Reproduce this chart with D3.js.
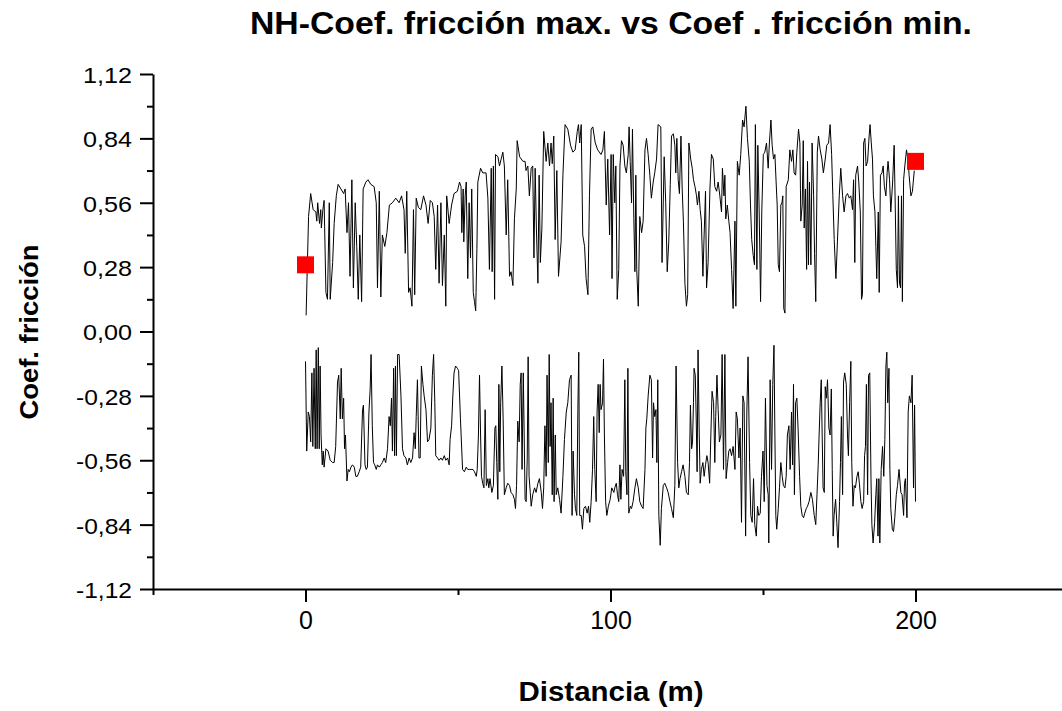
<!DOCTYPE html>
<html><head><meta charset="utf-8">
<script src="https://cdn.jsdelivr.net/npm/d3@7"></script>
<style>body{margin:0;background:#fff}svg{display:block}</style>
</head><body>
<svg id="c" width="1062" height="711"></svg>
<script>
// [distance (m), coefficient]
const maxSeries = [
[0.2,0.07],[1.0,0.50],[1.7,0.60],[2.5,0.53],[3.4,0.52],[3.7,0.48],[4.0,0.56],[4.6,0.47],[5.0,0.53],[5.2,0.45],
[5.7,0.53],[6.1,0.57],[6.7,0.17],[7.2,0.14],[7.8,0.56],[8.1,0.14],[8.9,0.30],[9.4,0.47],[10.1,0.59],[10.7,0.64],
[11.6,0.62],[12.5,0.60],[13.0,0.62],[13.6,0.43],[14.1,0.56],[14.6,0.24],[15.2,0.66],[15.7,0.19],[16.3,0.56],[16.8,0.37],
[17.3,0.14],[17.8,0.42],[18.4,0.13],[18.9,0.62],[19.8,0.65],[20.5,0.66],[21.4,0.64],[22.5,0.63],[23.2,0.56],[23.6,0.19],
[24.2,0.61],[24.7,0.15],[25.2,0.42],[26.0,0.37],[26.7,0.43],[27.5,0.55],[28.5,0.56],[29.6,0.58],[30.7,0.56],[31.5,0.59],
[32.3,0.53],[32.7,0.34],[33.2,0.61],[33.8,0.17],[34.3,0.19],[34.9,0.11],[35.4,0.53],[35.8,0.16],[36.3,0.58],[37.0,0.54],
[37.8,0.53],[38.7,0.59],[39.5,0.55],[40.2,0.47],[40.9,0.57],[41.6,0.56],[42.2,0.50],[42.7,0.27],[43.3,0.55],[43.8,0.21],
[44.4,0.56],[44.9,0.20],[45.5,0.42],[46.0,0.11],[46.3,0.59],[47.1,0.47],[47.9,0.55],[48.7,0.60],[49.8,0.61],
[50.5,0.65],[51.0,0.63],[51.25,0.43],[51.7,0.62],[51.9,0.39],[52.35,0.59],[52.7,0.65],[53.2,0.23],[53.65,0.56],[54.1,0.32],
[54.5,0.62],[55.0,0.17],[55.4,0.13],[55.8,0.09],[56.2,0.36],[56.5,0.65],[57.4,0.71],[58.1,0.69],[59.2,0.69],[59.8,0.58],
[60.3,0.27],[60.9,0.71],[61.2,0.26],[61.6,0.72],[62.0,0.14],[62.3,0.77],[63.1,0.76],[63.6,0.72],[64.15,0.75],[64.7,0.78],
[65.2,0.72],[65.8,0.42],[66.3,0.66],[66.9,0.24],[67.4,0.26],[68.0,0.20],[68.5,0.49],[69.1,0.62],[69.4,0.83],[70.2,0.76],
[71.3,0.74],[72.0,0.74],[72.3,0.70],[72.9,0.72],[73.4,0.59],[74.0,0.71],[74.5,0.72],[74.9,0.32],[75.3,0.71],[75.7,0.45],
[76.2,0.21],[76.6,0.68],[77.0,0.30],[77.5,0.45],[78.1,0.87],[78.9,0.74],[79.45,0.82],[80.0,0.72],[80.5,0.82],[80.9,0.73],
[81.4,0.85],[81.85,0.40],[82.4,0.70],[82.95,0.24],[83.8,0.39],[84.4,0.68],[85.1,0.90],[86.0,0.88],[86.9,0.81],[87.65,0.78],
[88.4,0.79],[89.1,0.87],[89.5,0.90],[89.9,0.82],[90.4,0.90],[90.9,0.42],[91.5,0.37],[92.0,0.23],[92.6,0.16],[93.1,0.59],
[93.65,0.88],[94.2,0.89],[95.0,0.82],[95.8,0.79],[96.9,0.77],[97.5,0.79],[98.0,0.87],[98.6,0.55],[99.1,0.75],[99.7,0.42],
[100.2,0.77],[100.5,0.23],
[100.9,0.77],[101.4,0.56],[101.75,0.72],[102.2,0.14],[102.7,0.27],[103.1,0.72],[103.6,0.83],[104.15,0.81],[104.7,0.72],[105.2,0.69],
[105.8,0.77],[106.1,0.89],[106.45,0.74],[106.9,0.56],[107.2,0.88],[107.65,0.49],[108.0,0.26],[108.3,0.68],[108.6,0.27],[109.1,0.11],
[109.6,0.50],[110.2,0.43],[110.7,0.48],[111.3,0.79],[111.8,0.84],[112.35,0.77],[112.9,0.68],[113.4,0.58],[114.0,0.65],[114.5,0.69],
[115.1,0.75],[115.6,0.90],[116.5,0.89],[116.9,0.30],[117.6,0.76],[118.1,0.56],[118.6,0.26],[119.1,0.39],[119.6,0.64],[120.0,0.85],
[120.6,0.86],[121.1,0.81],[121.4,0.69],[121.75,0.84],[122.2,0.66],[122.6,0.60],[123.1,0.85],[123.5,0.62],[123.9,0.48],[124.4,0.21],
[124.9,0.11],[125.3,0.16],[125.7,0.82],[126.3,0.75],[126.8,0.71],[127.2,0.66],[127.7,0.63],[128.2,0.59],[128.5,0.55],[129.0,0.61],
[129.4,0.53],[129.8,0.48],[130.3,0.24],[130.7,0.42],[131.15,0.61],[131.5,0.19],[132.0,0.30],[132.6,0.62],[133.1,0.77],[133.7,0.75],
[134.2,0.63],[134.8,0.61],[135.3,0.65],[135.85,0.59],[136.4,0.52],[136.7,0.71],[137.2,0.59],[137.5,0.68],[137.8,0.49],[138.3,0.55],
[138.8,0.48],[139.2,0.43],[139.7,0.27],[140.2,0.10],[140.8,0.48],[141.1,0.11],[141.6,0.74],[142.2,0.68],[142.7,0.77],[143.3,0.92],
[143.8,0.89],[144.4,0.98],[144.9,0.84],[145.5,0.74],[145.9,0.55],[146.3,0.40],[146.8,0.33],[147.2,0.29],[147.5,0.90],[148.0,0.27],
[148.3,0.81],[148.75,0.52],[149.2,0.13],[149.6,0.52],[150.1,0.77],[150.6,0.78],[151.15,0.82],[151.7,0.71],
[152.1,0.82],[152.6,0.92],[153.0,0.81],[153.45,0.75],[153.9,0.77],[154.3,0.65],[154.65,0.55],[155.0,0.29],[155.4,0.26],[155.85,0.55],
[156.2,0.56],[156.5,0.59],[156.8,0.10],[157.2,0.08],[157.6,0.63],[158.3,0.66],[158.8,0.79],[159.35,0.74],[159.8,0.79],[160.2,0.69],
[160.7,0.68],[161.1,0.78],[161.65,0.88],[162.1,0.82],[162.4,0.48],[162.85,0.55],[163.2,0.83],[163.5,0.45],[163.9,0.62],[164.3,0.27],
[164.6,0.74],[164.9,0.29],[165.25,0.65],[165.7,0.29],[166.1,0.82],[166.6,0.59],[166.9,0.34],[167.3,0.13],[167.8,0.78],[168.2,0.85],
[168.75,0.79],[169.3,0.75],[169.8,0.69],[170.4,0.75],[170.9,0.81],[171.5,0.82],[172.0,0.90],[172.5,0.77],[172.9,0.59],[173.35,0.40],
[173.9,0.23],[174.4,0.39],[175.0,0.59],[175.5,0.71],[176.1,0.59],[176.6,0.52],[177.2,0.59],[177.7,0.60],[178.3,0.58],[178.8,0.59],
[179.35,0.53],[179.7,0.66],[180.1,0.30],[180.4,0.68],[181.0,0.72],[181.4,0.65],[181.9,0.52],[182.3,0.14],[182.6,0.16],[183.0,0.82],
[183.4,0.84],[183.8,0.72],[184.3,0.74],[184.8,0.85],[185.1,0.90],[185.5,0.82],[185.9,0.75],[186.2,0.59],[186.7,0.52],[187.0,0.37],
[187.3,0.23],[187.8,0.52],[188.1,0.17],[188.5,0.68],[189.0,0.69],[189.4,0.72],[189.8,0.63],[190.3,0.59],[190.7,0.69],[191.0,0.74],
[191.5,0.66],[191.9,0.52],[192.5,0.65],[193.0,0.81],[193.3,0.59],[193.7,0.27],[194.1,0.19],[194.4,0.59],[194.75,0.21],[195.1,0.19],
[195.4,0.59],[195.7,0.13],[196.1,0.66],[196.5,0.72],[197.05,0.79],[197.6,0.74],[197.9,0.68],[198.5,0.59],[199.0,0.61],[199.6,0.70]
];

const minSeries = [
[0.0,-0.13],[0.4,-0.52],[0.9,-0.35],[1.3,-0.37],[1.7,-0.48],[2.1,-0.18],[2.4,-0.50],[2.8,-0.16],[3.2,-0.51],[3.5,-0.08],
[3.8,-0.51],[4.2,-0.07],[4.5,-0.51],[4.8,-0.15],[5.1,-0.45],[5.5,-0.58],[5.8,-0.52],[6.1,-0.59],[6.7,-0.51],[7.4,-0.52],
[8.1,-0.56],[8.9,-0.57],[9.4,-0.57],[9.9,-0.50],[10.5,-0.22],[10.9,-0.19],[11.4,-0.38],[11.7,-0.16],[12.1,-0.38],[12.5,-0.29],
[12.8,-0.51],[13.1,-0.45],[13.6,-0.65],[14.0,-0.60],[14.4,-0.61],[14.9,-0.59],[15.4,-0.58],[16.0,-0.59],[16.5,-0.63],[17.0,-0.63],
[17.6,-0.61],[18.1,-0.59],[18.7,-0.34],[19.0,-0.32],[19.5,-0.58],[19.9,-0.60],[20.3,-0.59],[20.8,-0.35],[21.2,-0.25],[21.5,-0.10],
[21.9,-0.41],[22.3,-0.57],[22.7,-0.58],[23.2,-0.60],[23.6,-0.58],[24.2,-0.59],[24.7,-0.58],[25.2,-0.57],[25.8,-0.55],[26.3,-0.57],
[26.9,-0.51],[27.4,-0.37],[27.8,-0.41],[28.2,-0.29],[28.5,-0.52],[28.9,-0.16],[29.2,-0.54],[29.5,-0.15],[29.8,-0.54],[30.2,-0.10],
[30.7,-0.10],[31.3,-0.28],[31.8,-0.51],[32.3,-0.54],[32.9,-0.55],[33.4,-0.58],[34.0,-0.55],[34.5,-0.57],[35.1,-0.55],[35.6,-0.44],
[36.0,-0.51],[36.3,-0.37],[36.7,-0.21],[37.2,-0.55],[37.6,-0.55],[38.0,-0.15],[38.5,-0.23],[38.9,-0.28],[39.5,-0.34],[40.0,-0.48],
[40.5,-0.47],[41.1,-0.42],[41.6,-0.19],[42.0,-0.10],[42.4,-0.31],[42.7,-0.54],[43.3,-0.55],[43.8,-0.56],[44.4,-0.55],[44.9,-0.56],
[45.5,-0.54],[46.0,-0.56],[46.6,-0.55],[47.1,-0.58],[47.4,-0.47],[47.9,-0.41],[48.3,-0.28],[48.7,-0.18],[49.2,-0.15],[49.8,-0.16],
[50.2,-0.17],[50.8,-0.38],[51.5,-0.60],[52.1,-0.61],[52.7,-0.59],[53.2,-0.60],[53.8,-0.60],[54.3,-0.60],[54.9,-0.60],[55.4,-0.61],
[56.0,-0.63],[56.3,-0.60],[56.7,-0.45],[57.05,-0.19],[57.4,-0.45],[57.7,-0.63],[58.1,-0.66],[58.5,-0.68],[58.9,-0.34],[59.3,-0.67],
[59.8,-0.64],[60.1,-0.68],[60.5,-0.64],[61.1,-0.70],[61.6,-0.67],[62.1,-0.42],[62.4,-0.41],[62.7,-0.57],[63.06,-0.73],[63.4,-0.23],
[63.7,-0.61],[64.0,-0.31],[64.4,-0.15],[64.8,-0.38],[65.2,-0.71],[65.8,-0.68],[66.3,-0.66],[66.9,-0.67],[67.4,-0.70],[68.0,-0.71],
[68.5,-0.73],[68.85,-0.77],[69.2,-0.67],[69.6,-0.39],[70.05,-0.48],[70.4,-0.23],[70.7,-0.18],[71.0,-0.60],[71.4,-0.18],[71.7,-0.45],
[72.0,-0.73],[72.35,-0.74],[72.7,-0.55],[73.0,-0.11],[73.3,-0.63],[73.7,-0.70],[74.0,-0.76],[74.5,-0.71],[75.1,-0.68],[75.6,-0.70],
[76.2,-0.66],[76.7,-0.64],[77.3,-0.70],[77.7,-0.77],[78.1,-0.68],[78.5,-0.41],[78.9,-0.63],[79.2,-0.19],[79.6,-0.57],[79.9,-0.10],
[80.2,-0.50],[80.5,-0.31],[80.9,-0.71],[81.2,-0.29],[81.5,-0.74],[81.9,-0.45],[82.2,-0.71],[82.7,-0.68],[83.3,-0.73],[83.8,-0.79],
[84.4,-0.63],[84.9,-0.47],[85.5,-0.35],[86.0,-0.31],[86.55,-0.21],[87.1,-0.19],[87.4,-0.80],[87.75,-0.52],[88.2,-0.71],[88.5,-0.77],
[88.95,-0.80],[89.3,-0.34],[89.6,-0.09],[89.9,-0.80],[90.4,-0.80],[90.8,-0.86],[91.25,-0.77],[91.8,-0.76],[92.35,-0.79],[92.8,-0.76],
[93.2,-0.83],[93.65,-0.74],[94.1,-0.60],[94.5,-0.37],[94.85,-0.60],[95.3,-0.74],[95.6,-0.35],[95.95,-0.23],[96.3,-0.44],[96.6,-0.23],
[96.9,-0.34],[97.4,-0.31],[97.7,-0.12],[98.0,-0.45],[98.4,-0.74],[98.8,-0.80],[99.3,-0.76],[99.9,-0.73],[100.4,-0.68],[101.1,-0.70],
[101.4,-0.68],[101.9,-0.66],[102.3,-0.71],[102.7,-0.74],[103.1,-0.58],[103.4,-0.73],[103.8,-0.60],[104.3,-0.63],[104.7,-0.21],[105.0,-0.61],
[105.4,-0.71],[105.7,-0.16],[106.0,-0.79],[106.5,-0.76],[106.9,-0.77],[107.4,-0.74],[108.0,-0.68],[108.5,-0.64],[109.1,-0.68],[109.6,-0.74],
[110.2,-0.76],[110.7,-0.77],[111.3,-0.60],[111.6,-0.42],[111.9,-0.38],[112.35,-0.28],[112.9,-0.19],[113.4,-0.21],[113.8,-0.55],[114.1,-0.31],
[114.5,-0.37],[114.9,-0.34],[115.2,-0.57],[115.5,-0.21],[115.85,-0.80],[116.3,-0.93],[116.7,-0.77],[117.3,-0.67],[117.8,-0.66],[118.4,-0.68],
[118.9,-0.70],[119.5,-0.74],[120.0,-0.77],[120.6,-0.81],[121.1,-0.67],[121.5,-0.15],[122.0,-0.57],[122.4,-0.68],[122.8,-0.64],[123.3,-0.61],
[123.8,-0.58],[124.4,-0.63],[124.9,-0.70],[125.5,-0.71],[125.9,-0.57],[126.2,-0.32],[126.6,-0.51],[126.9,-0.48],[127.2,-0.31],[127.4,-0.16],
[127.8,-0.19],[128.1,-0.38],[128.4,-0.61],[128.7,-0.08],[129.1,-0.45],[129.4,-0.66],[129.8,-0.60],[130.3,-0.57],[130.7,-0.63],[131.15,-0.58],
[131.6,-0.54],[132.0,-0.57],[132.5,-0.66],[132.9,-0.45],[133.3,-0.26],[133.8,-0.31],[134.2,-0.57],[134.5,-0.37],[134.9,-0.19],[135.3,-0.34],
[135.7,-0.48],[136.2,-0.45],[136.6,-0.10],[137.05,-0.60],[137.5,-0.10],[137.9,-0.64],[138.4,-0.57],[138.8,-0.52],[139.2,-0.51],[139.7,-0.54],
[140.2,-0.50],[140.8,-0.60],[141.2,-0.35],[141.6,-0.38],[142.1,-0.55],[142.5,-0.42],[142.95,-0.83],[143.4,-0.28],[143.8,-0.31],[144.3,-0.89],
[144.7,-0.35],[145.1,-0.11],[145.6,-0.57],[146.0,-0.80],[146.45,-0.83],[146.9,-0.64],[147.3,-0.84],[147.8,-0.89],[148.2,-0.76],[148.6,-0.80],
[149.1,-0.79],[149.5,-0.63],[150.0,-0.52],[150.4,-0.74],[150.8,-0.29],[151.3,-0.67],[151.7,-0.71],
[151.9,-0.92],[152.35,-0.21],[152.8,-0.60],[153.2,-0.23],[153.6,-0.06],[153.9,-0.45],[154.2,-0.80],[154.5,-0.86],[155.0,-0.77],[155.4,-0.68],
[155.85,-0.57],[156.3,-0.63],[156.7,-0.67],[157.2,-0.68],[157.6,-0.63],[158.0,-0.45],[158.5,-0.41],[158.9,-0.60],[159.35,-0.35],[159.7,-0.58],
[160.0,-0.23],[160.3,-0.71],[160.7,-0.31],[161.1,-0.29],[161.5,-0.42],[162.0,-0.63],[162.4,-0.76],[162.85,-0.80],[163.3,-0.81],[163.7,-0.79],
[164.2,-0.77],[164.6,-0.76],[165.1,-0.74],[165.7,-0.70],[166.2,-0.73],[166.8,-0.80],[167.3,-0.84],[167.7,-0.71],[168.1,-0.58],[168.4,-0.45],
[168.75,-0.31],[169.1,-0.21],[169.4,-0.45],[169.7,-0.68],[170.1,-0.70],[170.4,-0.24],[170.8,-0.29],[171.15,-0.21],[171.6,-0.42],[172.0,-0.45],
[172.4,-0.25],[172.7,-0.60],[173.0,-0.89],[173.3,-0.80],[173.8,-0.73],[174.2,-0.83],[174.6,-0.94],[175.1,-0.74],[175.4,-0.57],[175.7,-0.37],
[176.1,-0.71],[176.4,-0.22],[176.8,-0.18],[177.3,-0.23],[177.7,-0.45],[178.0,-0.54],[178.4,-0.31],[178.8,-0.13],[179.1,-0.57],[179.5,-0.76],
[179.9,-0.67],[180.3,-0.68],[180.8,-0.63],[181.2,-0.61],[181.6,-0.66],[182.1,-0.74],[182.5,-0.77],[183.0,-0.74],[183.3,-0.54],[183.6,-0.50],
[183.9,-0.23],[184.3,-0.71],[184.6,-0.19],[185.0,-0.18],[185.4,-0.64],[185.7,-0.84],[186.1,-0.92],[186.6,-0.83],[187.0,-0.71],[187.3,-0.64],
[187.7,-0.89],[188.0,-0.64],[188.3,-0.92],[188.75,-0.60],[189.2,-0.50],[189.6,-0.63],[189.95,-0.47],[190.3,-0.15],[190.6,-0.09],[190.9,-0.31],
[191.3,-0.16],[191.6,-0.60],[191.9,-0.77],[192.4,-0.86],[192.8,-0.87],[193.2,-0.81],[193.7,-0.71],[194.1,-0.67],[194.6,-0.60],[195.2,-0.70],
[195.6,-0.71],[196.1,-0.80],[196.4,-0.66],[196.7,-0.64],[197.2,-0.81],[197.6,-0.35],[198.0,-0.28],[198.5,-0.31],[198.9,-0.19],[199.35,-0.68],
[199.7,-0.32],[200.0,-0.74]
];

const markerDist = [0, 200];
const markerVal = [0.29, 0.74];

const xTicks = [0, 100, 200];
const xTickLabels = ["0", "100", "200"];
const xMinorTicks = [-50, 50, 150, 250];
const yTicks = [-1.12, -0.84, -0.56, -0.28, 0, 0.28, 0.56, 0.84, 1.12];
const yTickLabels = ["-1,12", "-0,84", "-0,56", "-0,28", "0,00", "0,28", "0,56", "0,84", "1,12"];
const yMinorTicks = [-0.98, -0.70, -0.42, -0.14, 0.14, 0.42, 0.70, 0.98];

const titleText = "NH-Coef. fricción max. vs Coef . fricción min.";
const xTitle = "Distancia (m)";
const yTitle = "Coef. fricción";

const svg = d3.select("#c");
const FONT = "'Liberation Sans', Arial, sans-serif";

const x = d3.scaleLinear().domain([-50, 250]).range([153, 1068]);
const y = d3.scaleLinear().domain([-1.12, 1.12]).range([589, 74]);

// series
const line = d3.line().x(d => x(d[0])).y(d => y(d[1]));
svg.append("path").datum(maxSeries).attr("d", line)
  .attr("fill", "none").attr("stroke", "#000").attr("stroke-width", 1);
svg.append("path").datum(minSeries).attr("d", line)
  .attr("fill", "none").attr("stroke", "#000").attr("stroke-width", 1);

// markers
const ms = 17;
svg.selectAll("rect.mk").data(markerDist).enter().append("rect")
  .attr("class", "mk")
  .attr("x", d => x(d) - ms / 2)
  .attr("y", (d, i) => y(markerVal[i]) - ms / 2)
  .attr("width", ms).attr("height", ms)
  .attr("fill", "#ff0000");

// axes
function styleAxis(g) {
  g.select(".domain").attr("stroke", "#000").attr("stroke-width", 2);
  g.selectAll(".tick line").attr("stroke", "#000").attr("stroke-width", 2);
}
const gx = svg.append("g").attr("transform", `translate(0,${y(-1.12)})`)
  .call(d3.axisBottom(x).tickValues(xTicks).tickFormat((d, i) => xTickLabels[i])
    .tickSize(13).tickSizeOuter(0).tickPadding(9));
styleAxis(gx);
gx.selectAll("text").attr("font-family", FONT).attr("font-size", 25).attr("fill", "#000");

const gxm = svg.append("g").attr("transform", `translate(0,${y(-1.12)})`)
  .call(d3.axisBottom(x).tickValues(xMinorTicks).tickFormat("").tickSize(6).tickSizeOuter(0));
styleAxis(gxm);
gxm.select(".domain").remove();

const gy = svg.append("g").attr("transform", `translate(${x(-50)},0)`)
  .call(d3.axisLeft(y).tickValues(yTicks).tickFormat((d, i) => yTickLabels[i])
    .tickSize(13).tickSizeOuter(0).tickPadding(8));
styleAxis(gy);
gy.selectAll("text").attr("font-family", FONT).attr("font-size", 22).attr("fill", "#000")
  .attr("dy", "0.38em")
  .attr("textLength", (d, i) => yTickLabels[i].length === 5 ? 56 : 49)
  .attr("lengthAdjust", "spacingAndGlyphs");

const gym = svg.append("g").attr("transform", `translate(${x(-50)},0)`)
  .call(d3.axisLeft(y).tickValues(yMinorTicks).tickFormat("").tickSize(6).tickSizeOuter(0));
styleAxis(gym);
gym.select(".domain").remove();

// titles
svg.append("text").text(titleText)
  .attr("x", 611).attr("y", 34).attr("text-anchor", "middle")
  .attr("font-family", FONT).attr("font-weight", "bold").attr("font-size", 32)
  .attr("textLength", 722).attr("lengthAdjust", "spacingAndGlyphs").attr("fill", "#000");

svg.append("text").text(xTitle)
  .attr("x", 611).attr("y", 701).attr("text-anchor", "middle")
  .attr("font-family", FONT).attr("font-weight", "bold").attr("font-size", 28)
  .attr("textLength", 185).attr("lengthAdjust", "spacingAndGlyphs").attr("fill", "#000");

svg.append("text").text(yTitle)
  .attr("transform", "translate(38,332) rotate(-90)").attr("text-anchor", "middle")
  .attr("font-family", FONT).attr("font-weight", "bold").attr("font-size", 26)
  .attr("textLength", 175).attr("lengthAdjust", "spacingAndGlyphs").attr("fill", "#000");
</script>
</body></html>
